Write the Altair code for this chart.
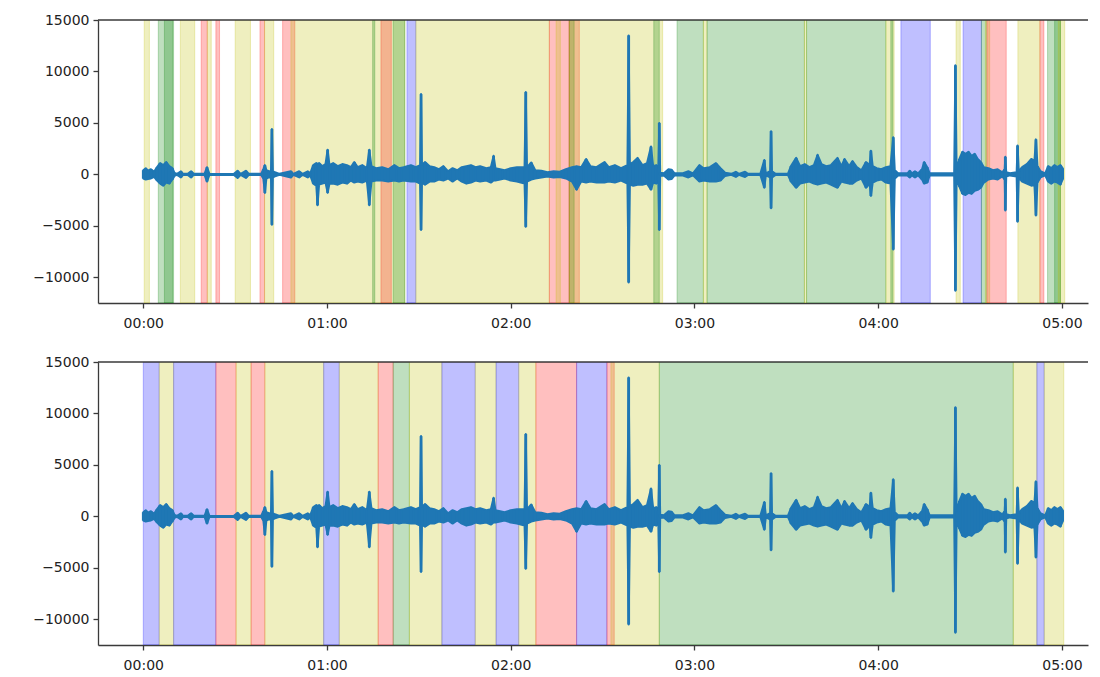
import altair as alt
import pandas as pd

# ---------------- waveform envelope (seconds, upper, lower) ----------------
wave_t = [0.0, 0.8, 1.5, 2.5, 3.5, 4.5, 5.5, 6.5, 7.5, 8.5, 9.5, 10.2, 11.0, 12.3, 13.0, 14.5, 15.6, 16.5,
          20.0, 20.8, 21.6, 29.5, 30.8, 31.8, 33.5, 34.5, 38.5, 39.2, 39.7, 40.2, 41.0, 41.7, 42.0, 42.3,
          43.0, 44.5, 48.2, 49.0, 50.9, 52.0, 53.7, 54.5, 55.5, 56.5, 56.9, 57.4, 58.5, 59.5, 60.2, 60.8,
          62.0, 63.5, 65.0, 66.5, 67.8, 68.9, 70.0, 71.5, 73.0, 73.8, 74.5, 76.0, 78.0, 80.0, 82.0, 83.5,
          85.0, 87.4, 89.0, 90.4, 90.7, 91.0, 92.0, 93.5, 95.0, 96.5, 98.0, 99.5, 101.0, 102.5, 104.0,
          105.5, 107.0, 108.5, 110.0, 112.0, 113.5, 114.4, 115.0, 116.5, 118.0, 120.0, 122.0, 124.5,
          124.9, 125.3, 126.7, 128.0, 130.0, 132.0, 134.0, 136.0, 138.0, 140.0, 141.5, 143.0, 144.6,
          146.0, 148.0, 150.6, 152.0, 154.0, 156.0, 158.1, 158.5, 158.9, 160.0, 161.4, 163.0, 164.5,
          165.8, 166.5, 167.5, 168.2, 168.5, 168.8, 170.0, 171.5, 172.5, 173.5, 176.0, 178.0, 179.5,
          181.6, 183.0, 185.0, 187.0, 188.5, 190.0, 192.0, 193.5, 194.5, 196.5, 197.5, 201.5, 202.8,
          203.3, 204.7, 205.0, 205.3, 206.5, 210.5, 211.5, 213.2, 214.5, 216.0, 217.5, 219.0, 220.2,
          221.5, 223.0, 224.5, 226.7, 228.0, 229.0, 230.5, 231.6, 233.0, 234.5, 236.0, 237.2, 237.6,
          238.2, 239.5, 241.0, 242.5, 244.0, 244.9, 245.4, 246.5, 249.5, 250.3, 251.0, 252.0, 253.0,
          254.3, 255.0, 256.0, 256.8, 264.8, 265.2, 265.6, 266.5, 267.5, 268.5, 269.5, 270.5, 271.5,
          272.5, 273.5, 274.5, 276.0, 277.5, 279.0, 280.5, 281.3, 281.5, 281.8, 283.0, 285.2, 285.5,
          285.9, 287.0, 288.5, 290.0, 291.0, 291.5, 292.0, 293.0, 294.5, 295.5, 296.5, 297.5, 298.5,
          299.5, 300.2]
wave_hi = [400, 600, 350, 500, 250, 700, 1100, 900, 1200, 800, 600, 150, 50, 300, 50, 50, 300, 50,
           50, 700, 50, 30, 350, 50, 350, 50, 50, 500, 900, 400, 300, 300, 4400, 300,
           200, 50, 300, 50, 300, 50, 300, 100, 900, 1100, 1000, 1100, 800, 1000, 2400, 900,
           1100, 800, 1000, 900, 700, 1200, 700, 900, 600, 2400, 800, 600, 700, 500, 900, 600,
           700, 900, 700, 900, 7800, 900, 1200, 800, 700, 500, 800, 300, 600, 400, 700,
           800, 900, 700, 800, 600, 700, 1800, 600, 500, 400, 600, 700, 700,
           8000, 700, 1150, 400, 350, 200, 300, 250, 500, 700, 800, 700, 1500,
           800, 700, 1200, 700, 900, 600, 900, 13500, 1000, 1200, 1600, 900, 1100,
           2700, 800, 900, 600, 5000, 150, 100, 500, 450, 100, 100, 300, 100,
           900, 600, 700, 1100, 600, 150, 50, 250, 50, 250, 50, 50, 1400,
           100, 300, 4200, 300, 50, 50, 800, 1600, 800, 1000, 700, 900, 1900,
           1000, 800, 900, 1600, 800, 1500, 800, 1300, 700, 400, 1200, 900, 2300,
           800, 600, 500, 700, 800, 3600, 400, 100, 100, 350, 100, 300, 100,
           500, 1200, 700, 100, 100, 10600, 500, 1500, 2200, 2000, 2200, 1800, 2000,
           1500, 1200, 700, 600, 400, 500, 200, 500, 1700, 200, 100, 200, 2800,
           300, 700, 1000, 1500, 1300, 3400, 800, 300, 100, 800, 600, 900, 700,
           900, 600]
wave_lo = [-400, -500, -450, -400, -250, -600, -900, -1100, -800, -900, -500, -150, -50, -300, -50, -50, -300, -50,
           -50, -700, -50, -30, -350, -50, -350, -50, -50, -400, -1800, -400, -300, -300, -4900, -300,
           -200, -50, -300, -50, -300, -50, -300, -100, -900, -1100, -3000, -1000, -900, -800, -1800, -900,
           -900, -1000, -800, -900, -600, -800, -700, -800, -600, -3000, -700, -600, -600, -700, -600, -700,
           -600, -700, -700, -900, -5400, -800, -1000, -700, -700, -500, -600, -400, -700, -400, -700,
           -900, -800, -600, -700, -600, -800, -600, -600, -500, -400, -600, -700, -900,
           -5100, -700, -500, -400, -300, -200, -300, -250, -400, -700, -1500, -700, -800,
           -700, -800, -800, -700, -800, -600, -900, -10500, -1000, -1100, -1000, -1000, -900,
           -1500, -800, -900, -600, -5400, -150, -100, -500, -450, -100, -100, -300, -100,
           -700, -600, -700, -700, -600, -150, -50, -250, -50, -250, -50, -50, -1300,
           -100, -300, -3300, -300, -50, -50, -700, -1300, -900, -800, -700, -900, -1000,
           -900, -800, -1000, -1300, -700, -800, -900, -900, -600, -400, -1300, -900, -2100,
           -800, -600, -500, -800, -900, -7300, -400, -100, -100, -300, -100, -300, -100,
           -500, -900, -800, -100, -100, -11300, -500, -1200, -1900, -2000, -1800, -1900, -1600,
           -1500, -1300, -800, -500, -400, -500, -200, -500, -3500, -200, -100, -200, -4600,
           -300, -700, -900, -1100, -1000, -4000, -800, -300, -100, -700, -900, -700, -800,
           -1000, -500]

# ---------------- highlighted spans, top panel ----------------
span1_start = [0.3, 4.9, 6.9, 12.1, 18.9, 20.9, 23.7, 30.0, 38.1, 39.6, 45.5, 48.2, 74.9, 77.6, 81.6,
               86.1, 89.0, 132.6, 134.8, 139.1, 139.1, 139.1, 166.7, 174.3, 182.9, 184.1, 215.9, 216.6,
               242.5, 244.1, 247.4, 265.4, 267.7, 273.7, 275.0, 275.5, 285.6, 292.8, 295.3, 297.6, 298.8]
span1_end = [2.0, 9.9, 9.6, 16.8, 20.9, 22.2, 24.9, 35.0, 39.6, 42.6, 49.5, 85.4, 75.6, 81.0, 85.4,
             89.0, 132.6, 139.1, 136.2, 142.4, 140.7, 169.6, 168.5, 182.9, 184.1, 215.9, 216.6, 242.5,
             245.2, 244.8, 257.0, 266.8, 273.7, 275.3, 276.4, 281.8, 292.8, 294.1, 299.5, 299.5, 300.9]
span1_kind = ["y", "g", "g", "y", "r", "y", "r", "y", "r", "y", "r", "y", "g", "r", "g",
              "b", "y", "r", "y", "r", "g", "y", "g", "g", "y", "g", "y", "g",
              "y", "g", "b", "y", "b", "g", "y", "r", "y", "r", "g", "g", "y"]

# ---------------- highlighted spans, bottom panel ----------------
span2_start = [0.0, 5.2, 9.9, 23.7, 30.3, 35.2, 39.7, 58.9, 64.0, 76.7, 81.6, 86.9, 97.5, 108.4,
               115.2, 122.6, 128.2, 141.5, 151.4, 152.7, 168.5, 284.1, 291.8, 294.2]
span2_end = [5.2, 9.9, 23.7, 30.3, 35.2, 39.7, 58.9, 64.0, 76.7, 81.6, 86.9, 97.5, 108.4, 115.2,
             122.6, 128.2, 141.5, 151.4, 153.8, 168.5, 284.1, 291.8, 294.2, 300.6]
span2_kind = ["b", "y", "b", "r", "y", "r", "y", "b", "y", "r", "g", "y", "b", "y",
              "b", "y", "r", "b", "r", "y", "g", "y", "b", "y"]

kind_domain = ["y", "g", "r", "b"]
kind_colors = ["#bfbf00", "#008000", "#ff0000", "#0000ff"]

x_ticks = [0, 60, 120, 180, 240, 300]
x_labels = ["00:00", "01:00", "02:00", "03:00", "04:00", "05:00"]
y_ticks = [-10000, -5000, 0, 5000, 10000, 15000]

X_DOMAIN = [-14.79, 308.5]
Y_DOMAIN = [-12500, 15000]
W, H = 990, 283
FONT = "DejaVu Sans"
SPINE = "#3a3a3a"
WAVE = "#1f77b4"

wave_df = pd.DataFrame({"t": wave_t, "hi": wave_hi, "lo": wave_lo})

label_expr = ("[" + ",".join("'%s'" % s for s in x_labels) + "][indexof(["
              + ",".join(str(v) for v in x_ticks) + "], datum.value)]")

x_scale = alt.Scale(domain=X_DOMAIN, nice=False, zero=False)
y_scale = alt.Scale(domain=Y_DOMAIN, nice=False, zero=False)
x_axis = alt.Axis(values=x_ticks, labelExpr=label_expr, title=None, grid=False, labelPadding=8)
y_axis = alt.Axis(values=y_ticks, format="d", title=None, grid=False)


def panel(starts, ends, kinds):
    span_df = pd.DataFrame({"start": starts, "end": ends, "kind": kinds})
    spans = alt.Chart(span_df).mark_rect(
        fillOpacity=0.25, strokeOpacity=0.25, strokeWidth=1, clip=True
    ).encode(
        x=alt.X("start:Q", scale=x_scale, axis=x_axis),
        x2="end:Q",
        y=alt.value(0),
        y2=alt.value(H),
        color=alt.Color("kind:N", scale=alt.Scale(domain=kind_domain, range=kind_colors), legend=None),
        stroke=alt.Stroke("kind:N", scale=alt.Scale(domain=kind_domain, range=kind_colors), legend=None),
    )
    base = alt.Chart(wave_df).encode(
        x=alt.X("t:Q", scale=x_scale, axis=x_axis),
        y=alt.Y("hi:Q", scale=y_scale, axis=y_axis),
        y2="lo:Q",
    )
    area = base.mark_area(color=WAVE, stroke=WAVE, strokeWidth=2.0, strokeJoin="round",
                          fillOpacity=1, clip=True)
    rules = base.mark_rule(color=WAVE, strokeWidth=2.8, clip=True)
    top = alt.Chart(pd.DataFrame({"k": [0]})).mark_rule(color=SPINE, strokeWidth=1.3).encode(
        x=alt.value(0), x2=alt.value(W), y=alt.value(0)
    )
    return alt.layer(spans, area, rules, top).properties(width=W, height=H)


chart = alt.vconcat(
    panel(span1_start, span1_end, span1_kind),
    panel(span2_start, span2_end, span2_kind),
    spacing=25,
).properties(
    padding={"left": 24, "top": 5, "right": 0, "bottom": 0}
).configure_view(
    stroke=None
).configure_axis(
    domainColor=SPINE, domainWidth=1.3, tickColor=SPINE, tickWidth=1.3, tickSize=5,
    labelFont=FONT, labelFontSize=14, labelColor="#222222", labelPadding=4
)

chart.save("out.html", embed_options={"renderer": "svg", "actions": False})
